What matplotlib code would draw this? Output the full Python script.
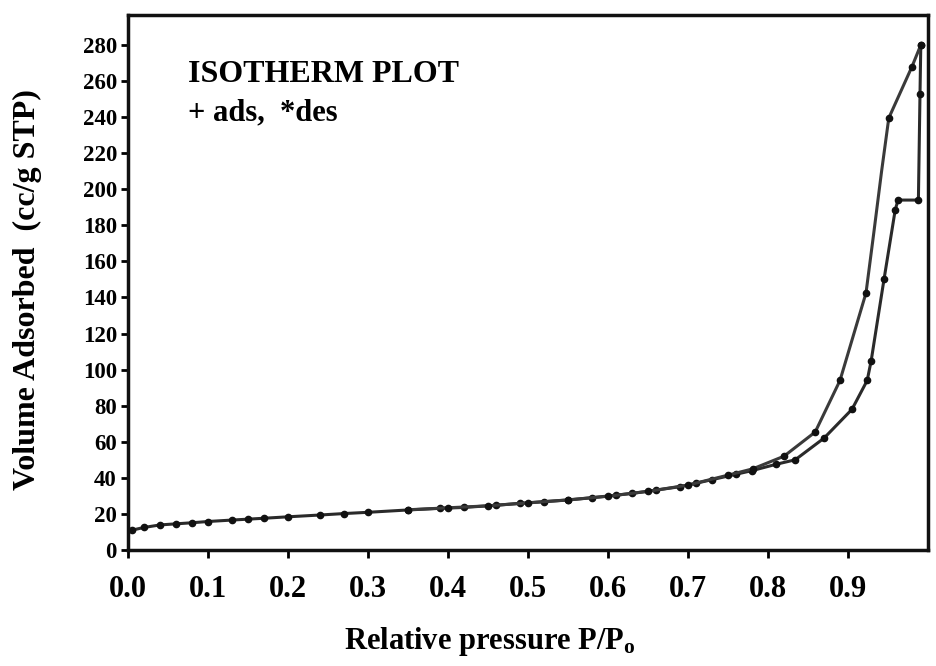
import matplotlib.pyplot as plt

# adsorption branch
p_ads = [0.005, 0.02, 0.04, 0.06, 0.08, 0.10, 0.13, 0.15, 0.17, 0.20, 0.24, 0.27,
         0.30, 0.35, 0.39, 0.42, 0.46, 0.49, 0.52, 0.55, 0.58, 0.61, 0.63, 0.66,
         0.69, 0.71, 0.73, 0.76, 0.78, 0.81, 0.834, 0.87, 0.905, 0.924, 0.929,
         0.945, 0.959, 0.9625, 0.988, 0.99, 0.991]
v_ads = [11.0, 12.5, 13.9, 14.5, 15.1, 15.8, 16.6, 17.1, 17.6, 18.4, 19.4, 20.2,
         20.9, 22.2, 23.1, 23.6, 24.8, 25.9, 26.8, 27.7, 29.0, 30.4, 31.4, 33.2,
         35.1, 37.0, 39.0, 42.0, 44.0, 47.5, 50.0, 62.0, 78.0, 94.0, 105.0,
         150.0, 188.5, 194.0, 194.0, 253.0, 280.0]

# desorption branch
p_des = [0.991, 0.980, 0.951, 0.942, 0.932, 0.9225, 0.89, 0.859, 0.82, 0.781, 0.75,
         0.70, 0.65, 0.60, 0.55, 0.50, 0.45, 0.40, 0.35]
v_des = [280.0, 268.0, 239.5, 210.0, 175.0, 142.5, 94.0, 65.4, 52.0, 45.0, 41.5,
         36.0, 32.5, 29.8, 27.8, 26.1, 24.5, 23.4, 22.3]

xticks = [0.0, 0.1, 0.2, 0.3, 0.4, 0.5, 0.6, 0.7, 0.8, 0.9]
yticks = list(range(0, 281, 20))

plt.rcParams['font.family'] = ['Liberation Serif', 'DejaVu Serif']
plt.rcParams['font.weight'] = 'bold'
plt.rcParams['mathtext.default'] = 'regular'

fig = plt.figure(figsize=(9.37, 6.66), dpi=100)
ax = fig.add_axes([128 / 937, 116 / 666, 800 / 937, 535 / 666])

ax.plot(p_ads, v_ads, color='#2a2a2a', lw=2.2, marker='o', ms=4.5, mfc='#111111', mec='#111111')
ax.plot(p_des, v_des, color='#3a3a3a', lw=2.2, marker='o', ms=4.5, mfc='#111111', mec='#111111',
        markevery=[0, 1, 2, 5, 6, 7, 8, 9, 10, 11, 12, 13, 14, 15, 16, 17, 18])

ax.set_xlim(0, 1.0)
ax.set_ylim(0, 296.6)
ax.set_xticks(xticks)
ax.set_xticklabels(['%.1f' % t for t in xticks], fontsize=22, fontweight='bold')
ax.set_yticks(yticks)
ax.set_yticklabels([str(t) for t in yticks], fontsize=16.5, fontweight='bold')
ax.tick_params(axis='x', direction='out', length=6, width=2, pad=12)
ax.tick_params(axis='y', direction='out', length=5, width=2, pad=3)

for s in ax.spines.values():
    s.set_linewidth(2.5)
    s.set_color('#111111')

ax.set_xlabel(r'Relative pressure P/P$_{o}$', fontsize=22, fontweight='bold')
ax.xaxis.set_label_coords(0.4525, -0.14)
ax.set_ylabel('Volume Adsorbed  (cc/g STP)', fontsize=23, fontweight='bold')
ax.yaxis.set_label_coords(-0.108, 0.486)

ax.text(0.075, 0.915, 'ISOTHERM PLOT', transform=ax.transAxes, fontsize=23,
        fontweight='bold', va='top', ha='left')
ax.text(0.075, 0.845, '+ ads,  *des', transform=ax.transAxes, fontsize=22,
        fontweight='bold', va='top', ha='left')

fig.savefig('out.png', dpi=100)
